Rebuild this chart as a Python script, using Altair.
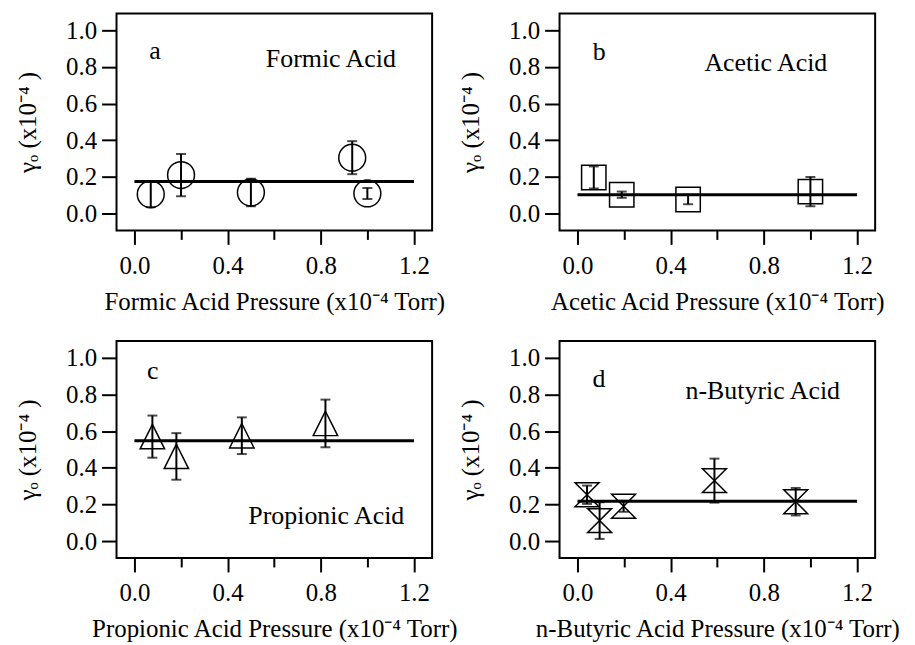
import altair as alt
import pandas as pd

FONT = "Liberation Serif"

# ---- data ----
formic_x = [0.07, 0.20, 0.50, 0.935, 1.00]
formic_y = [0.105, 0.21, 0.115, 0.305, 0.11]
formic_err = [0.07, 0.115, 0.075, 0.09, 0.03]
formic_fit = 0.175

acetic_x = [0.07, 0.19, 0.475, 1.00]
acetic_y = [0.197, 0.103, 0.077, 0.12]
acetic_err = [0.06, 0.017, 0.026, 0.08]
acetic_fit = 0.103

propionic_x = [0.077, 0.18, 0.461, 0.82]
propionic_y = [0.57, 0.462, 0.575, 0.642]
propionic_err = [0.115, 0.127, 0.10, 0.13]
propionic_fit = 0.547

butyric_x = [0.041, 0.095, 0.198, 0.588, 0.937]
butyric_y = [0.253, 0.112, 0.19, 0.33, 0.215]
butyric_err = [0.05, 0.10, 0.03, 0.12, 0.075]
butyric_fit = 0.218

fit_x = [0.0, 1.2]

x_ticks = [0.0, 0.2, 0.4, 0.6, 0.8, 1.0, 1.2]
y_ticks = [0.0, 0.2, 0.4, 0.6, 0.8, 1.0]
x_domain = [-0.077, 1.278]
y_domain = [-0.092, 1.092]

# annotation text: (name, letter, letter_x, letter_y, name_x, name_y, ...)
panels = [
    ("Formic Acid", "a", 0.064, 0.844, 0.564, 0.80, formic_x, formic_y, formic_err, formic_fit, "circle", 729),
    ("Acetic Acid", "b", 0.066, 0.84, 0.545, 0.78, acetic_x, acetic_y, acetic_err, acetic_fit, "square", 600),
    ("Propionic Acid", "c", 0.054, 0.884, 0.489, 0.096, propionic_x, propionic_y, propionic_err, propionic_fit,
     "M0,-1L1,1L-1,1Z", 600),
    ("n-Butyric Acid", "d", 0.064, 0.84, 0.464, 0.776, butyric_x, butyric_y, butyric_err, butyric_fit,
     "M-1,-1L1,-1L-1,1L1,1Z", 576),
]

W, H = 317, 218


def make_panel(name, letter, lx, ly, nx, ny, xs, ys, errs, fit, shape, size):
    df = pd.DataFrame({
        "x": xs, "y": ys,
        "lo": [y - e for y, e in zip(ys, errs)],
        "hi": [y + e for y, e in zip(ys, errs)],
    })
    fit_df = pd.DataFrame({"x": fit_x, "y": [fit, fit]})
    ann_df = pd.DataFrame({"x": [lx, nx], "y": [ly, ny], "t": [letter, name]})

    xscale = alt.Scale(domain=x_domain, nice=False, zero=False)
    yscale = alt.Scale(domain=y_domain, nice=False, zero=False)
    xaxis = alt.Axis(
        values=x_ticks,
        title=f"{name} Pressure (x10\u207b\u2074 Torr)",
        labelExpr="round(datum.value*10) % 4 == 0 ? format(datum.value, '.1f') : ''",
        tickSize={"condition": {"test": "round(datum.value*10) % 4 == 0", "value": 14}, "value": 9},
        labelPadding=9,
        titlePadding=11,
        labelFlush=False,
        labelOverlap=False,
    )
    yaxis = alt.Axis(
        values=y_ticks,
        format=".1f",
        title="\u03b3\u2092 (x10\u207b\u2074 )",
        tickSize=15,
        labelPadding=5,
        titlePadding=25,
        labelFlush=False,
        labelOverlap=False,
    )

    def X(f):
        return alt.X(f, type="quantitative", scale=xscale, axis=xaxis)

    def Y(f):
        return alt.Y(f, type="quantitative", scale=yscale, axis=yaxis)

    base = alt.Chart(df)
    rule = base.mark_rule(color="black", strokeWidth=2).encode(x=X("x"), y=Y("lo"), y2="hi")
    tlo = base.mark_tick(color="black", orient="horizontal", size=10, thickness=2).encode(x=X("x"), y=Y("lo"))
    thi = base.mark_tick(color="black", orient="horizontal", size=10, thickness=2).encode(x=X("x"), y=Y("hi"))
    pts = base.mark_point(shape=shape, size=size, filled=False, color="black", strokeWidth=1.5, opacity=1).encode(
        x=X("x"), y=Y("y"))
    line = alt.Chart(fit_df).mark_line(color="black", strokeWidth=3).encode(x=X("x"), y=Y("y"))
    txt = alt.Chart(ann_df).mark_text(align="left", baseline="alphabetic", font=FONT, fontSize=26,
                                      color="black").encode(x=X("x"), y=Y("y"), text="t:N")
    return alt.layer(rule, tlo, thi, pts, line, txt).properties(width=W, height=H)


charts = [make_panel(*p) for p in panels]

chart = alt.concat(*charts, columns=2, spacing={"row": 111, "column": 128}, bounds="flush").properties(
    padding={"left": 6, "top": 3, "right": 5, "bottom": 5},
    background="white",
).configure_view(
    stroke="black", strokeWidth=2
).configure_axis(
    domain=False, grid=False, tickColor="black", tickWidth=2,
    labelFont=FONT, labelFontSize=25, labelColor="black",
    titleFont=FONT, titleFontSize=25, titleFontWeight="normal", titleColor="black",
)

chart.save("out.html", embed_options={"renderer": "svg", "actions": False})
